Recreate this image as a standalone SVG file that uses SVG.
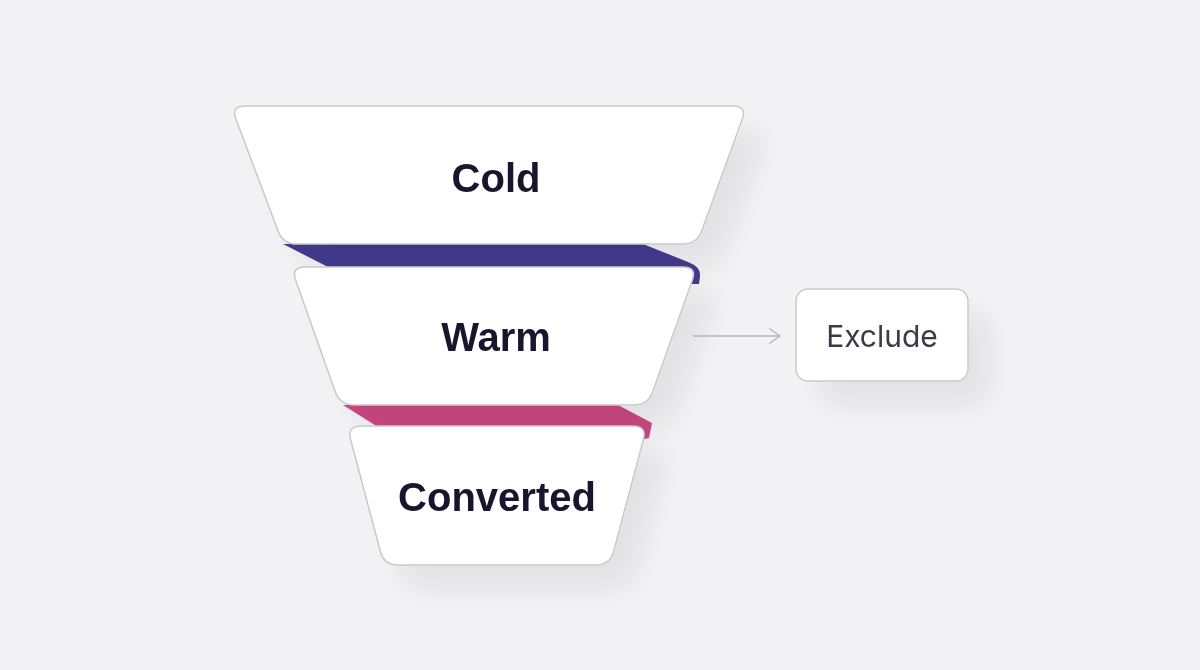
<svg xmlns="http://www.w3.org/2000/svg" width="1200" height="670" viewBox="0 0 1200 670">
  <defs>
    <filter id="shadow" x="-20%" y="-20%" width="170%" height="190%">
      <feGaussianBlur in="SourceAlpha" stdDeviation="14" result="b"/>
      <feOffset in="b" dx="22" dy="24" result="o"/>
      <feComponentTransfer in="o" result="s"><feFuncA type="linear" slope="0.07"/></feComponentTransfer>
      <feMerge><feMergeNode in="s"/><feMergeNode in="SourceGraphic"/></feMerge>
    </filter>
    <marker id="arrow" viewBox="0 0 12 16" refX="11" refY="8" markerWidth="12" markerHeight="16" markerUnits="userSpaceOnUse" orient="auto">
      <path d="M1,1 L11,8 L1,15" fill="none" stroke="#b4b4bc" stroke-width="1.5" stroke-linecap="round" stroke-linejoin="round"/>
    </marker>
  </defs>
  <style>
    .slice { fill: #ffffff; stroke: #c9c9ce; stroke-width: 1.5; }
    .label { font-family: "Liberation Sans", Arial, sans-serif; font-weight: 700; font-size: 40px; fill: #16142e; text-anchor: middle; }
    .small { font-family: "Inter", "Liberation Sans", sans-serif; font-size: 30px; fill: #3a3a46; text-anchor: middle; }
    .conn { stroke: #b4b4bc; stroke-width: 1.5; fill: none; }
  </style>
  <rect width="1200" height="670" fill="#f3f2f5"/>

  <g id="band-cold-warm">
    <path d="M283,244 L643,244 L688,262 Q701,267 700,276 L699,284 L690,284 L330,268 Z" fill="#443b90"/>
  </g>
  <g id="band-warm-converted">
    <path d="M343,405 L618,405 L652,423 L649,438 L640,440 L378,427 Z" fill="#cb4882"/>
  </g>

  <g id="cold" filter="url(#shadow)">
    <path class="slice" d="M245,106 L733,106 Q747,106 742.2,119.2 L701.8,230.8 Q697,244 683,244 L297,244 Q283,244 278.1,230.9 L235.9,119.1 Q231,106 245,106 Z"/>
    <text class="label" x="496" y="192">Cold</text>
  </g>
  <g id="warm" filter="url(#shadow)">
    <path class="slice" d="M305,267 L683,267 Q697,267 692.3,280.2 L652.7,391.8 Q648,405 634,405 L354,405 Q340,405 335.3,391.8 L295.7,280.2 Q291,267 305,267 Z"/>
    <text class="label" x="496" y="351">Warm</text>
  </g>
  <g id="converted" filter="url(#shadow)">
    <path class="slice" d="M361,426 L633,426 Q647,426 643.4,439.5 L613.6,551.5 Q610,565 596,565 L398,565 Q384,565 380.4,551.5 L350.6,439.5 Q347,426 361,426 Z"/>
    <text class="label" x="497" y="511">Converted</text>
  </g>

  <g id="exclude" filter="url(#shadow)">
    <rect class="slice" x="796" y="289" width="172" height="92" rx="12"/>
    <text class="small" x="882" y="347">Exclude</text>
  </g>

  <g id="connectors">
    <line class="conn" x1="693" y1="336" x2="780" y2="336" marker-end="url(#arrow)"/>
  </g>
</svg>
